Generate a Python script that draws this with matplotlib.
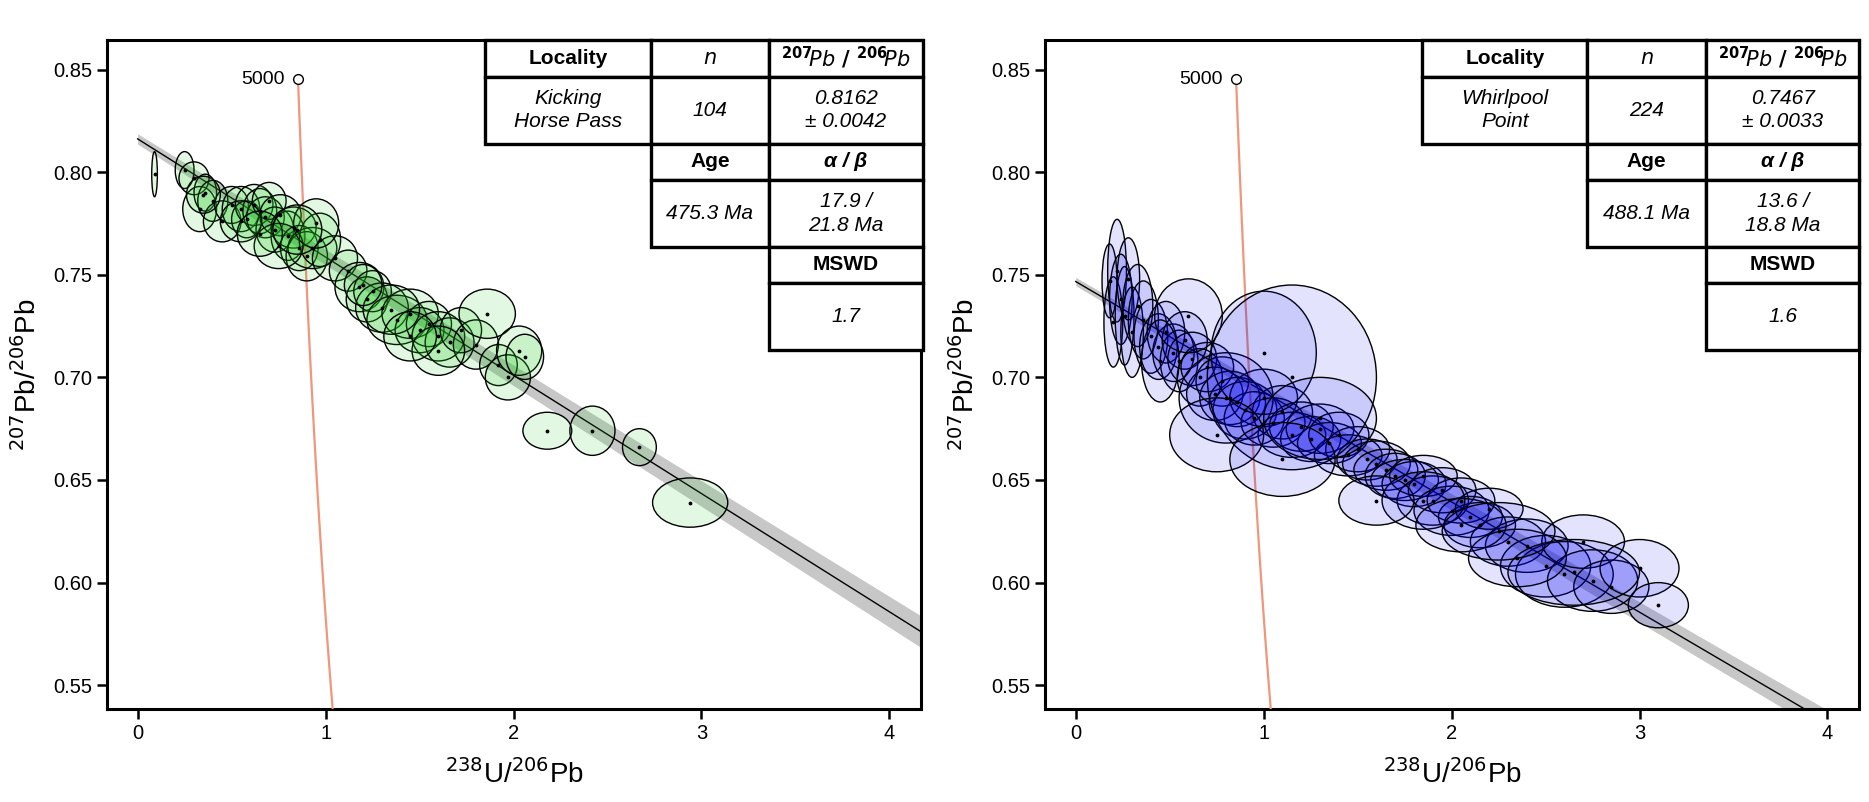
import numpy as np
import matplotlib
matplotlib.use('Agg')
from matplotlib import pyplot as plt
from matplotlib.patches import Ellipse, Rectangle

# Kicking Horse Pass: centre x, centre y, half-width, half-height
kh_x = [0.09, 0.25, 0.30, 0.33, 0.36, 0.40, 0.45, 0.50, 0.55, 0.58, 0.62, 0.65, 0.68, 0.70,
        0.73, 0.76, 0.80, 0.83, 0.86, 0.90, 0.93, 0.97, 1.05, 1.12, 1.18, 1.22, 1.25, 1.30,
        1.38, 1.45, 1.50, 1.55, 1.60, 1.66, 1.72, 1.80, 1.86, 1.92, 1.97, 2.03, 2.06, 2.18,
        2.42, 2.67, 2.94, 0.35, 0.55, 0.75, 0.95, 1.35, 1.60, 0.65, 0.85, 1.20, 1.45]
kh_y = [0.799, 0.801, 0.797, 0.782, 0.790, 0.786, 0.776, 0.784, 0.782, 0.777, 0.784, 0.781,
        0.778, 0.786, 0.772, 0.779, 0.769, 0.773, 0.763, 0.759, 0.763, 0.767, 0.758, 0.752,
        0.744, 0.738, 0.742, 0.734, 0.728, 0.731, 0.723, 0.726, 0.720, 0.717, 0.723, 0.716,
        0.731, 0.706, 0.700, 0.713, 0.710, 0.674, 0.674, 0.666, 0.639, 0.789, 0.776, 0.764,
        0.775, 0.733, 0.713, 0.770, 0.772, 0.745, 0.720]
kh_rx = [0.015, 0.05, 0.08, 0.09, 0.06, 0.08, 0.10, 0.09, 0.10, 0.08, 0.10, 0.09, 0.10, 0.09,
         0.10, 0.11, 0.09, 0.12, 0.10, 0.11, 0.13, 0.11, 0.12, 0.10, 0.13, 0.11, 0.10, 0.14,
         0.16, 0.15, 0.13, 0.12, 0.14, 0.13, 0.11, 0.12, 0.15, 0.10, 0.12, 0.12, 0.10, 0.13,
         0.12, 0.09, 0.20, 0.09, 0.11, 0.13, 0.12, 0.15, 0.14, 0.12, 0.13, 0.10, 0.14]
kh_ry = [0.011, 0.009, 0.008, 0.011, 0.009, 0.010, 0.010, 0.009, 0.011, 0.009, 0.010, 0.011,
         0.010, 0.009, 0.011, 0.010, 0.012, 0.010, 0.011, 0.012, 0.010, 0.013, 0.011, 0.010,
         0.012, 0.011, 0.010, 0.012, 0.012, 0.012, 0.011, 0.011, 0.012, 0.012, 0.011, 0.012,
         0.012, 0.010, 0.011, 0.012, 0.011, 0.009, 0.012, 0.009, 0.012, 0.009, 0.010, 0.011,
         0.012, 0.012, 0.012, 0.011, 0.012, 0.010, 0.012]

# Whirlpool Point
wp_x = [0.18, 0.20, 0.22, 0.24, 0.26, 0.28, 0.30, 0.33, 0.36, 0.40, 0.44, 0.48, 0.52, 0.55,
        0.58, 0.62, 0.66, 0.70, 0.74, 0.78, 0.82, 0.86, 0.90, 0.95, 1.00, 1.05, 1.10, 1.15,
        1.20, 1.25, 1.30, 1.35, 1.40, 1.45, 1.50, 1.55, 1.60, 1.65, 1.70, 1.75, 1.80, 1.85,
        1.90, 1.95, 2.00, 2.05, 2.10, 2.15, 2.20, 2.30, 2.40, 2.50, 2.60, 2.70, 2.75, 2.85,
        3.00, 3.10, 0.60, 0.80, 1.00, 1.15, 1.30, 1.85, 2.05, 2.35, 2.65, 0.45, 0.75, 1.10,
        1.60, 2.25]
wp_y = [0.747, 0.727, 0.752, 0.738, 0.730, 0.748, 0.722, 0.735, 0.728, 0.720, 0.715, 0.722,
        0.712, 0.708, 0.718, 0.709, 0.700, 0.705, 0.692, 0.698, 0.690, 0.688, 0.684, 0.680,
        0.690, 0.678, 0.683, 0.672, 0.676, 0.670, 0.675, 0.668, 0.672, 0.662, 0.665, 0.660,
        0.658, 0.655, 0.652, 0.650, 0.648, 0.652, 0.640, 0.645, 0.635, 0.640, 0.632, 0.628,
        0.636, 0.620, 0.618, 0.608, 0.604, 0.620, 0.601, 0.598, 0.607, 0.589, 0.730, 0.690,
        0.712, 0.700, 0.680, 0.640, 0.628, 0.612, 0.605, 0.708, 0.672, 0.660, 0.640, 0.625]
wp_rx = [0.04, 0.05, 0.05, 0.06, 0.05, 0.06, 0.06, 0.08, 0.08, 0.09, 0.10, 0.10, 0.11, 0.10,
         0.12, 0.13, 0.12, 0.14, 0.15, 0.14, 0.16, 0.15, 0.17, 0.16, 0.18, 0.17, 0.16, 0.18,
         0.17, 0.16, 0.18, 0.17, 0.16, 0.18, 0.17, 0.16, 0.18, 0.17, 0.16, 0.18, 0.17, 0.18,
         0.19, 0.18, 0.20, 0.18, 0.17, 0.19, 0.18, 0.20, 0.22, 0.24, 0.26, 0.22, 0.24, 0.20,
         0.21, 0.16, 0.18, 0.25, 0.28, 0.45, 0.30, 0.22, 0.24, 0.26, 0.35, 0.10, 0.25, 0.28,
         0.20, 0.30]
wp_ry = [0.018, 0.022, 0.025, 0.022, 0.024, 0.020, 0.022, 0.020, 0.019, 0.018, 0.016, 0.015,
         0.014, 0.015, 0.014, 0.013, 0.014, 0.012, 0.013, 0.012, 0.013, 0.012, 0.014, 0.013,
         0.014, 0.012, 0.013, 0.011, 0.012, 0.011, 0.012, 0.010, 0.011, 0.010, 0.011, 0.010,
         0.011, 0.010, 0.011, 0.010, 0.011, 0.010, 0.012, 0.011, 0.012, 0.011, 0.010, 0.011,
         0.010, 0.012, 0.013, 0.015, 0.016, 0.013, 0.015, 0.013, 0.014, 0.011, 0.018, 0.022,
         0.030, 0.045, 0.020, 0.014, 0.013, 0.014, 0.016, 0.020, 0.018, 0.018, 0.012, 0.014]

# regression results
intercepts = [0.8162, 0.7467]
slopes = [-0.0576, -0.0537]
band = [0.0025, 0.002]

# table texts
tables = [
    ['Kicking\nHorse Pass', '104', '0.8162\n± 0.0042', '475.3 Ma', '17.9 /\n21.8 Ma', '1.7'],
    ['Whirlpool\nPoint', '224', '0.7467\n± 0.0033', '488.1 Ma', '13.6 /\n18.8 Ma', '1.6'],
]

# concordia ages (Ma)
conc_ages = np.linspace(3800, 5000, 60)
l238, l235 = 1.55125e-4, 9.8485e-4
conc_x = 1 / (np.exp(l238 * conc_ages) - 1)
conc_y = (np.exp(l235 * conc_ages) - 1) / (137.88 * (np.exp(l238 * conc_ages) - 1))

W, H = 1869, 802
S = 1869 / 1560  # layout below measured on a 1560 px wide view
fig = plt.figure(figsize=(W / 100, H / 100), dpi=100)
plt.rcParams['font.family'] = ['Liberation Sans', 'DejaVu Sans']


def ax_rect(x0, x1, y0, y1):
    x0, x1, y0, y1 = x0 * S, x1 * S, y0 * S, y1 * S
    return [x0 / W, 1 - y1 / H, (x1 - x0) / W, (y1 - y0) / H]


axes = [fig.add_axes(ax_rect(89, 769, 33, 592)), fig.add_axes(ax_rect(872, 1552, 33, 592))]
xlims = [(-0.165, 4.17), (-0.165, 4.17)]
datasets = [(kh_x, kh_y, kh_rx, kh_ry, (0.15, 0.8, 0.15, 0.13)),
            (wp_x, wp_y, wp_rx, wp_ry, (0.0, 0.0, 0.95, 0.11))]

for i, ax in enumerate(axes):
    xs, ys, rxs, rys, fc = datasets[i]
    ax.set_xlim(*xlims[i])
    ax.set_ylim(0.5383, 0.8646)
    xx = np.linspace(0, 4.3, 100)
    yy = intercepts[i] + slopes[i] * xx
    ax.fill_between(xx, yy - band[i] * (1 + 0.5 * xx), yy + band[i] * (1 + 0.5 * xx),
                    color='0.78', lw=0, zorder=1)
    ax.plot(xx, yy, color='black', lw=1, zorder=2)
    ax.plot(conc_x, conc_y, color='#f0967a', lw=1.6, zorder=3)
    ax.plot(conc_x[-1], conc_y[-1], 'o', mfc='white', mec='black', ms=7, zorder=6)
    ax.text(conc_x[-1] - 0.07, conc_y[-1], '5000', ha='right', va='center', fontsize=14)
    for x, y, rx, ry in zip(xs, ys, rxs, rys):
        ax.add_patch(Ellipse((x, y), 2 * rx, 2 * ry, facecolor=fc, edgecolor='black',
                             lw=1, zorder=4))
    ax.scatter(xs, ys, s=3, color='black', zorder=5)
    ax.set_xticks([0, 1, 2, 3, 4])
    ax.set_yticks([0.55, 0.60, 0.65, 0.70, 0.75, 0.80, 0.85])
    ax.set_yticklabels(['0.55', '0.60', '0.65', '0.70', '0.75', '0.80', '0.85'])
    ax.tick_params(labelsize=14.5, width=1.8, length=7)
    for s in ax.spines.values():
        s.set_linewidth(2.2)
    ax.set_xlabel('$^{238}$U/$^{206}$Pb', fontsize=20, labelpad=12)
    ax.set_ylabel('$^{207}$Pb/$^{206}$Pb', fontsize=20, labelpad=8)

# tables drawn in figure pixels (measured on the 1560 px view)
cols = [405, 543, 642, 770]
rows = [33, 64, 120, 150, 206, 236, 292]
for i, t in enumerate(tables):
    off = 782 * i
    cells = [
        (0, 0, 'Locality', 'bold', 'normal'), (1, 0, '$\\mathbf{\\mathit{n}}$', 'bold', 'italic'),
        (2, 0, '$\\mathbf{^{207}\\!\\mathit{Pb}\\ /\\ ^{206}\\!\\mathit{Pb}}$', 'bold', 'italic'),
        (0, 1, t[0], 'normal', 'italic'), (1, 1, t[1], 'normal', 'italic'),
        (2, 1, t[2], 'normal', 'italic'),
        (1, 2, 'Age', 'bold', 'normal'), (2, 2, 'α / β', 'bold', 'italic'),
        (1, 3, t[3], 'normal', 'italic'), (2, 3, t[4], 'normal', 'italic'),
        (2, 4, 'MSWD', 'bold', 'normal'), (2, 5, t[5], 'normal', 'italic'),
    ]
    for c, r, txt, wt, st in cells:
        x0, x1 = (cols[c] + off) * S, (cols[c + 1] + off) * S
        y0, y1 = rows[r] * S, rows[r + 1] * S
        fig.add_artist(Rectangle((x0 / W, 1 - y1 / H), (x1 - x0) / W, (y1 - y0) / H,
                                 transform=fig.transFigure, facecolor='white',
                                 edgecolor='black', lw=2.4, zorder=10))
        fig.text((x0 + x1) / 2 / W, 1 - (y0 + y1) / 2 / H, txt, ha='center', va='center',
                 fontsize=15, fontweight=wt, fontstyle=st, linespacing=1.3, zorder=11)

fig.savefig('out.png', dpi=100)
